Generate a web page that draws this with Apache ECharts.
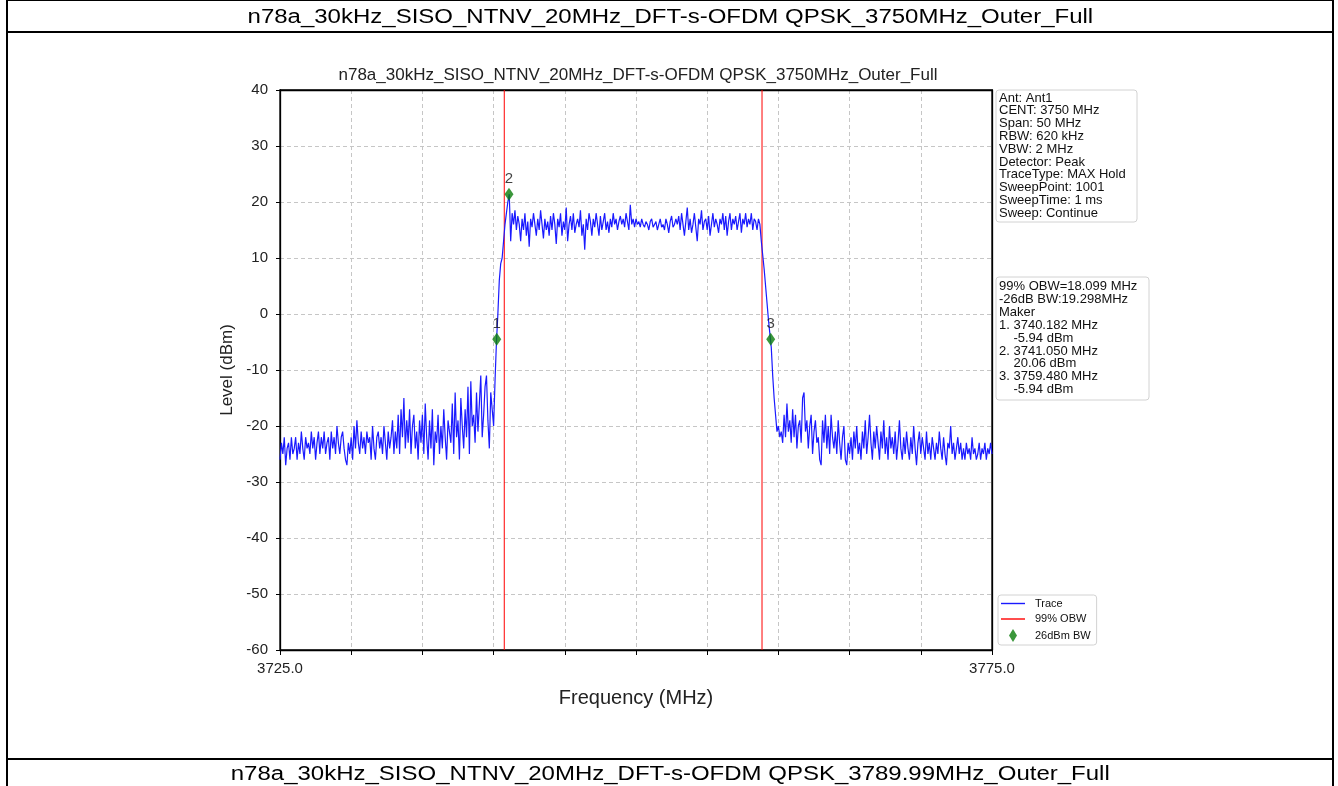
<!DOCTYPE html>
<html>
<head>
<meta charset="utf-8">
<script src="https://cdn.jsdelivr.net/npm/echarts@6/dist/echarts.min.js"></script>
<style>
html,body{margin:0;padding:0;background:#fff;width:1338px;height:786px;overflow:hidden;font-family:'Liberation Sans',Arial,sans-serif}
#chart{position:absolute;left:0;top:0;width:1338px;height:786px}
.ln{position:absolute;background:#000;z-index:5}
.pt{position:absolute;left:8px;width:1324px;text-align:center;font-size:20px;line-height:26px;white-space:nowrap;color:#000;z-index:5}
.pt span{display:inline-block;transform:scaleX(1.2)}
</style>
</head>
<body>
<div id="chart"></div>
<div class="ln" style="left:6px;top:0;width:1328px;height:1px"></div>
<div class="ln" style="left:6px;top:0;width:2px;height:786px"></div>
<div class="ln" style="left:1332px;top:0;width:2px;height:786px"></div>
<div class="ln" style="left:6px;top:31px;width:1328px;height:2px"></div>
<div class="ln" style="left:6px;top:758px;width:1328px;height:2px"></div>
<div class="pt" id="pageTitleTop" style="top:3px"><span></span></div>
<div class="pt" id="pageTitleBottom" style="top:760px"><span></span></div>
<script>
// ---------------- data ----------------
const pageTitleTop = 'n78a_30kHz_SISO_NTNV_20MHz_DFT-s-OFDM QPSK_3750MHz_Outer_Full';
const pageTitleBottom = 'n78a_30kHz_SISO_NTNV_20MHz_DFT-s-OFDM QPSK_3789.99MHz_Outer_Full';
const chartTitle = 'n78a_30kHz_SISO_NTNV_20MHz_DFT-s-OFDM QPSK_3750MHz_Outer_Full';

// sweep: 3725.0 .. 3775.0 MHz, 0.1 MHz per point
const freqStart = 3725;
const freqStep = 0.1;
const traceLevels = [
  // 3725
  -26,-23,-25,-22,-27,-24,-23,-26,-22,-25,
  // 3726
  -24,-22,-26,-23,-25,-21,-24,-26,-22,-24,
  // 3727
  -23,-25,-21,-24,-22,-26,-23,-21,-25,-22,
  // 3728
  -24,-21,-25,-23,-22,-26,-21,-24,-22,-25,
  // 3729
  -20,-23,-25,-22,-21,-24,-26,-27,-23,-25,
  // 3730
  -22,-26,-20,-24,-19,-23,-25,-21,-24,-22,
  // 3731
  -25,-21,-23,-22,-26,-20,-24,-26,-22,-21,
  // 3732
  -24,-22,-25,-20,-23,-26,-21,-24,-22,-19,
  // 3733
  -25,-21,-24,-18,-25,-17,-22,-15,-24,-19,
  // 3734
  -23,-17,-25,-20,-18,-24,-21,-26,-19,-23,
  // 3735
  -18,-25,-16,-22,-26,-19,-24,-17,-27,-21,
  // 3736
  -23,-18,-25,-20,-24,-17,-22,-26,-19,-21,
  // 3737
  -23,-16,-25,-14,-22,-19,-26,-15,-20,-24,
  // 3738
  -17,-22,-13,-25,-12,-20,-18,-23,-14,-21,
  // 3739
  -16,-11,-22,-18,-13,-11,-19,-24,-14,-17,
  // 3740
  -20,-12,-5,0,6,9,10,13,16,18,
  // 3741
  20,21.4,13,18,16,18.5,15,17.5,16,13,
  // 3742
  17,15,18,14,16.5,12,17,15.5,18,16,
  // 3743
  14,17,15,18.5,16,13.5,17,15,16.5,14,
  // 3744
  17.5,15,18,16,12.5,17,15.5,18,14,16.5,
  // 3745
  15,19,13,16,17.5,15,18,14.5,16,17,
  // 3746
  15.5,18.5,14,16,11.5,17,15,18,16.5,14,
  // 3747
  17,15.5,18,16,14,17.5,15,16.5,18,15,
  // 3748
  16.5,14.5,17,15.5,18,16,17,15,16.5,17.5,
  // 3749
  16,17,15.5,18,16.5,15,19.5,16,17,15.5,
  // 3750
  17,16,16.5,15.5,17,16,15.5,16.5,16,15,
  // 3751
  16.5,17,15.5,16,16.5,15,16,17,15.5,16,
  // 3752
  15,17,16,14.5,16.5,17.5,15.5,16,17,16,
  // 3753
  17.5,15,18,16,14,16.5,19,15,17,14.5,
  // 3754
  16,18,15.5,13,17,16,18.5,15,16.5,17,
  // 3755
  15,17.5,14,16,18,15.5,17,16,14.5,17,
  // 3756
  16,18,15,17.5,14,16.5,18,15,17,16,
  // 3757
  17.5,15,16.5,18,14.5,17,16,18,15.5,17,
  // 3758
  16,18,15,17,16.5,15,17,16,13,10.5,
  // 3759
  8,5,2,-1,-3.5,-6,-11,-15,-18,-21,
  // 3760
  -20,-22,-21,-23,-18,-22,-16,-21,-19,-23,
  // 3761
  -17,-22,-18,-24,-20,-19,-23,-15,-14,-21,
  // 3762
  -19,-24,-20,-18,-25,-21,-19,-23,-22,-26,
  // 3763
  -27,-19,-23,-18,-24,-20,-25,-18,-22,-24,
  // 3764
  -21,-25,-19,-23,-26,-22,-20,-26,-27,-23,
  // 3765
  -25,-22,-26,-21,-24,-20,-25,-23,-26,-21,
  // 3766
  -24,-19,-25,-22,-18,-23,-26,-21,-24,-20,
  // 3767
  -23,-26,-21,-24,-19,-25,-22,-26,-20,-24,
  // 3768
  -22,-25,-21,-26,-23,-19,-24,-26,-22,-25,
  // 3769
  -21,-24,-26,-22,-25,-20,-24,-27,-23,-21,
  // 3770
  -25,-22,-24,-26,-21,-25,-23,-26,-22,-24,
  // 3771
  -26,-23,-25,-21,-24,-26,-22,-25,-27,-23,
  // 3772
  -24,-20,-25,-23,-26,-24,-22,-25,-23,-26,
  // 3773
  -24,-26,-23,-25,-24,-26,-22,-25,-24,-26,
  // 3774
  -25,-23,-26,-24,-25,-23,-26,-24,-25,-23,
  // 3775
  -25
];

const obwEdges = [3740.75, 3758.85];          // 99% OBW red lines (MHz)
const markerFreqs = [3740.22, 3741.08, 3759.46];
const markerLevels = [-4.5, 21.4, -4.5];
const markerLabels = ['1', '2', '3'];

const xMin = 3725, xMax = 3775, xInterval = 5;
const xLabelValues = [3725, 3775];
const yMin = -60, yMax = 40, yInterval = 10;

const legendNames = ['Trace', '99% OBW', '26dBm BW'];

const settingsLines = [
  'Ant: Ant1',
  'CENT: 3750 MHz',
  'Span: 50 MHz',
  'RBW: 620 kHz',
  'VBW: 2 MHz',
  'Detector: Peak',
  'TraceType: MAX Hold',
  'SweepPoint: 1001',
  'SweepTime: 1 ms',
  'Sweep: Continue'
];
const resultLines = [
  '99% OBW=18.099 MHz',
  '-26dB BW:19.298MHz',
  'Maker',
  '1. 3740.182 MHz',
  '    -5.94 dBm',
  '2. 3741.050 MHz',
  '    20.06 dBm',
  '3. 3759.480 MHz',
  '    -5.94 dBm'
];

// ---------------- page text ----------------
document.querySelector('#pageTitleTop span').textContent = pageTitleTop;
document.querySelector('#pageTitleBottom span').textContent = pageTitleBottom;

// ---------------- chart ----------------
const FONT = "'Liberation Sans', Arial, sans-serif";
const traceData = traceLevels.map((v, i) => [+(freqStart + i * freqStep).toFixed(2), v]);
const markerData = markerFreqs.map((f, i) => [f, markerLevels[i]]);
const diamondPath = 'path://M4,0L8,6.5L4,13L0,6.5Z';
const linePath = 'path://M0,0L24,0L24,1.4L0,1.4Z';
const gridLine = {color: '#c6c6c6', width: 1, type: [4, 3]};
const frameLine = {color: '#000', width: 1.3};

const chart = echarts.init(document.getElementById('chart'), null, {renderer: 'canvas'});

const obwSeries = obwEdges.map(e => ({
  name: legendNames[1],
  type: 'line',
  data: [[e, yMin], [e, yMax]],
  symbol: 'none',
  itemStyle: {color: '#ff0000'},
  lineStyle: {color: '#ff0000', width: 1},
  z: 2,
  silent: true
}));

chart.setOption({
  animation: false,
  backgroundColor: 'transparent',
  textStyle: {fontFamily: FONT},
  title: {
    text: chartTitle,
    left: 638,
    top: 67,
    textAlign: 'center',
    padding: 0,
    textStyle: {fontSize: 17, fontWeight: 'normal', color: '#222', fontFamily: FONT}
  },
  grid: {
    left: 280, top: 90, width: 712, height: 560,
    show: true, borderColor: '#000', borderWidth: 1.3, backgroundColor: '#fff',
    containLabel: false
  },
  xAxis: [
    {
      type: 'value',
      position: 'bottom',
      min: xMin, max: xMax, interval: xInterval,
      name: 'Frequency (MHz)',
      nameLocation: 'middle',
      nameGap: 38,
      nameTextStyle: {fontSize: 20, color: '#222', fontFamily: FONT},
      axisLine: {show: true, onZero: false, lineStyle: frameLine},
      axisTick: {show: true, length: 5, lineStyle: {color: '#000', width: 1}},
      axisLabel: {
        fontSize: 15, color: '#222', margin: 11, fontFamily: FONT,
        showMinLabel: true, showMaxLabel: true,
        formatter: v => xLabelValues.some(x => Math.abs(x - v) < 1e-6) ? v.toFixed(1) : ''
      },
      splitLine: {show: true, showMinLine: false, showMaxLine: false, lineStyle: gridLine}
    },
    {
      type: 'value',
      position: 'top',
      min: xMin, max: xMax, interval: xInterval,
      axisLine: {show: true, onZero: false, lineStyle: frameLine},
      axisTick: {show: false},
      axisLabel: {show: false},
      splitLine: {show: false}
    }
  ],
  yAxis: [
    {
      type: 'value',
      position: 'left',
      min: yMin, max: yMax, interval: yInterval,
      name: 'Level (dBm)',
      nameLocation: 'middle',
      nameGap: 37,
      nameTextStyle: {fontSize: 17, color: '#222', fontFamily: FONT},
      axisLine: {show: true, onZero: false, lineStyle: frameLine},
      axisTick: {show: true, length: 4, lineStyle: {color: '#000', width: 1}},
      axisLabel: {fontSize: 15, color: '#222', margin: 12, fontFamily: FONT},
      splitLine: {show: true, showMinLine: false, showMaxLine: false, lineStyle: gridLine}
    },
    {
      type: 'value',
      position: 'right',
      min: yMin, max: yMax, interval: yInterval,
      axisLine: {show: true, onZero: false, lineStyle: frameLine},
      axisTick: {show: false},
      axisLabel: {show: false},
      splitLine: {show: false}
    }
  ],
  legend: {
    orient: 'vertical',
    left: 998, top: 595,
    itemWidth: 24, itemHeight: 13, itemGap: 4.5,
    padding: [3, 6, 3, 3],
    backgroundColor: '#fff',
    borderColor: '#d2d2d2', borderWidth: 1, borderRadius: 3,
    itemStyle: {borderWidth: 0},
    textStyle: {fontSize: 11, color: '#111', fontFamily: FONT, padding: [0, 0, 0, 5]},
    selectedMode: false,
    data: [
      {name: legendNames[0], icon: linePath},
      {name: legendNames[1], icon: linePath},
      {name: legendNames[2], icon: diamondPath}
    ]
  },
  series: [
    {
      name: legendNames[0],
      type: 'line',
      data: traceData,
      symbol: 'none',
      itemStyle: {color: '#1a1aff'},
      lineStyle: {color: '#1a1aff', width: 1.2},
      z: 3,
      silent: true
    },
    ...obwSeries,
    {
      name: legendNames[2],
      type: 'scatter',
      data: markerData,
      symbol: diamondPath,
      symbolSize: [9, 13],
      itemStyle: {color: '#0a7d0a'},
      label: {
        show: true,
        position: 'top',
        distance: 1,
        fontSize: 15,
        color: '#111',
        fontFamily: FONT,
        formatter: p => markerLabels[p.dataIndex]
      },
      z: 5,
      silent: true
    }
  ],
  graphic: [
    {
      type: 'rect', z: 10,
      shape: {x: 996, y: 90, width: 141, height: 132, r: 3},
      style: {fill: '#fff', stroke: '#d2d2d2', lineWidth: 1}
    },
    {
      type: 'text', z: 11, x: 999, y: 91.6,
      style: {text: settingsLines.join('\n'), fontSize: 13, fontFamily: FONT, fill: '#111', lineHeight: 12.8, verticalAlign: 'top', align: 'left'}
    },
    {
      type: 'rect', z: 10,
      shape: {x: 996, y: 277, width: 153, height: 123, r: 3},
      style: {fill: '#fff', stroke: '#d2d2d2', lineWidth: 1}
    },
    {
      type: 'text', z: 11, x: 999, y: 280,
      style: {text: resultLines.join('\n'), fontSize: 13, fontFamily: FONT, fill: '#111', lineHeight: 12.9, verticalAlign: 'top', align: 'left'}
    }
  ]
});
</script>
</body>
</html>
